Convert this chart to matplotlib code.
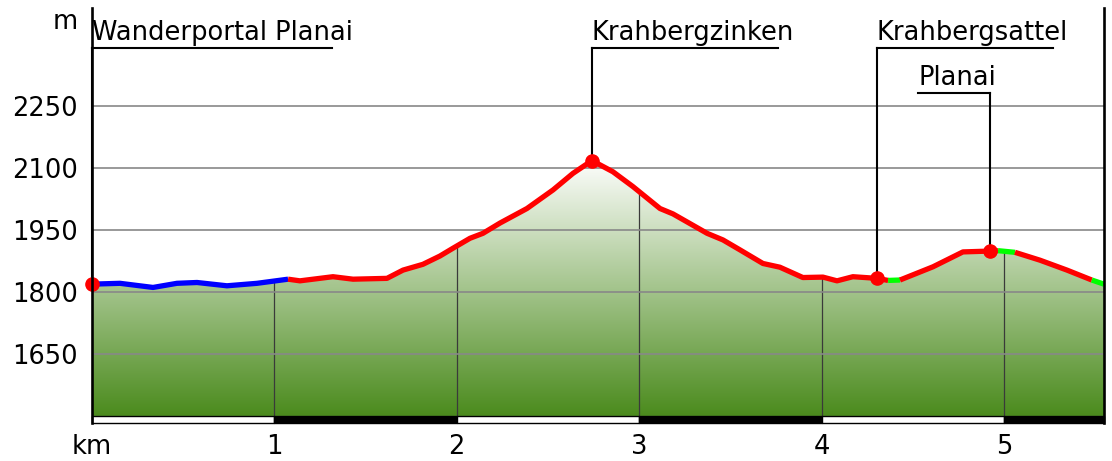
import numpy as np
import matplotlib.pyplot as plt
from matplotlib.patches import Polygon, Rectangle
from matplotlib.colors import LinearSegmentedColormap
import matplotlib.transforms as mtransforms

# --- elevation profile ---
dist_km = np.array([0.000, 0.155, 0.336, 0.467, 0.577, 0.741, 0.906, 1.076, 1.141, 1.322,
                    1.432, 1.618, 1.706, 1.815, 1.908, 1.980, 2.073, 2.144, 2.238, 2.385,
                    2.528, 2.637, 2.741, 2.856, 2.966, 3.114, 3.185, 3.372, 3.459, 3.552,
                    3.678, 3.771, 3.897, 4.007, 4.084, 4.171, 4.303, 4.364, 4.429, 4.610,
                    4.774, 4.922, 4.966, 5.059, 5.196, 5.344, 5.480, 5.547])
elev_m = np.array([1819, 1821, 1811, 1821, 1823, 1815, 1821, 1831, 1827, 1837,
                   1831, 1833, 1853, 1867, 1887, 1906, 1930, 1942, 1967, 2002,
                   2047, 2087, 2118, 2091, 2055, 2002, 1989, 1942, 1926, 1902,
                   1869, 1860, 1835, 1836, 1827, 1837, 1833, 1828, 1829, 1861,
                   1897, 1899, 1900, 1896, 1877, 1853, 1829, 1819])

# path type per stretch (start km, end km, colour)
stretches = [(0.000, 1.076, '#0000ff'),
             (1.076, 4.364, '#ff0000'),
             (4.364, 4.429, '#00ff00'),
             (4.429, 4.966, '#ff0000'),
             (4.966, 5.059, '#00ff00'),
             (5.059, 5.480, '#ff0000'),
             (5.480, 5.547, '#00ff00')]

# waypoints
wp_names = ["Wanderportal Planai", "Krahbergzinken", "Krahbergsattel", "Planai"]
wp_km = [0.0, 2.741, 4.303, 4.922]
wp_elev = [1819, 2118, 1833, 1899]
wp_row = [0, 0, 0, 1]
wp_side = ['left', 'left', 'left', 'right']

y_ticks = [1650, 1800, 1950, 2100, 2250]
x_ticks = [0, 1, 2, 3, 4, 5]
x_labels = ['km', '1', '2', '3', '4', '5']

# --- layout ---
BASE = 1500
YLIM = (1483.0, 2487.2)
ROW_Y = [2390, 2281]
FS = 18.5

fig = plt.figure(figsize=(11.12, 4.61), dpi=100)
ax = fig.add_axes([91.7 / 1112, 38 / 461, 1012.3 / 1112, 415 / 461])
x_end = dist_km[-1]
ax.set_xlim(0, x_end)
ax.set_ylim(*YLIM)

# gradient fill clipped to the profile
verts = np.vstack([[0, BASE], np.column_stack([dist_km, elev_m]), [x_end, BASE]])
clip = Polygon(verts, closed=True, facecolor='none', edgecolor='none')
ax.add_patch(clip)
cmap = LinearSegmentedColormap.from_list('terrain_fill', ['#4b8b1d', '#ffffff'])
grad = np.linspace(0, 1, 256).reshape(-1, 1)
im = ax.imshow(grad, extent=(0, x_end, BASE, 2125), origin='lower', aspect='auto',
               cmap=cmap, zorder=1)
im.set_clip_path(clip)

# km lines only inside the terrain
for k in x_ticks[1:]:
    vl = ax.axvline(k, color='#3a3a3a', lw=0.9, zorder=2)
    vl.set_clip_path(clip)

# horizontal grid
ax.set_yticks(y_ticks)
ax.grid(axis='y', color='#888888', lw=1.2)
ax.grid(axis='x', visible=False)
ax.set_axisbelow(False)

# profile line, coloured by stretch
for a, b, c in stretches:
    m = (dist_km >= a - 1e-9) & (dist_km <= b + 1e-9)
    ax.plot(dist_km[m], elev_m[m], color=c, lw=3.8, solid_capstyle='butt',
            solid_joinstyle='round', zorder=3, clip_on=False)

# scale bar under the terrain
for k in x_ticks:
    w = min(1, x_end - k)
    ax.add_patch(Rectangle((k, YLIM[0]), w, BASE - YLIM[0],
                           facecolor='white' if k % 2 == 0 else 'black',
                           edgecolor='black', lw=1.0, zorder=3, clip_on=False))

# waypoint markers, leaders and labels
ax.plot(wp_km, wp_elev, 'o', color='#ff0000', ms=9.5, zorder=4, clip_on=False)
fig.canvas.draw()
renderer = fig.canvas.get_renderer()
km_per_px = x_end / ax.get_window_extent().width
for name, k, e, r, side in zip(wp_names, wp_km, wp_elev, wp_row, wp_side):
    yl = ROW_Y[r]
    tr = mtransforms.offset_copy(ax.transData, fig=fig, x=0, y=8, units='dots')
    t = ax.text(k, yl, name, fontsize=FS, ha='left', va='baseline', transform=tr,
                clip_on=False, zorder=5)
    width_km = t.get_window_extent(renderer).width * km_per_px
    ul = 0.92 * width_km
    if side == 'left':
        x0, x1 = k, k + ul
    else:
        x0, x1 = k - ul, k
        t.set_x(x0)
    ax.plot([x0, x1], [yl, yl], color='black', lw=1.5, zorder=5, clip_on=False)
    ax.plot([k, k], [e, yl], color='black', lw=1.5, zorder=3.5, clip_on=False)

# axes frame
for s in ['top', 'bottom']:
    ax.spines[s].set_visible(False)
for s in ['left', 'right']:
    ax.spines[s].set_linewidth(1.9)
    ax.spines[s].set_zorder(5)

ax.set_xticks(x_ticks)
ax.set_xticklabels(x_labels)
ax.tick_params(axis='both', length=0, labelsize=FS)
ax.tick_params(axis='y', pad=10)
ax.tick_params(axis='x', pad=8)
ax.annotate('m', xy=(0, 1), xycoords='axes fraction', xytext=(-13.7, -14),
            textcoords='offset pixels', ha='right', va='center', fontsize=FS)

fig.savefig('out.png', dpi=100)
